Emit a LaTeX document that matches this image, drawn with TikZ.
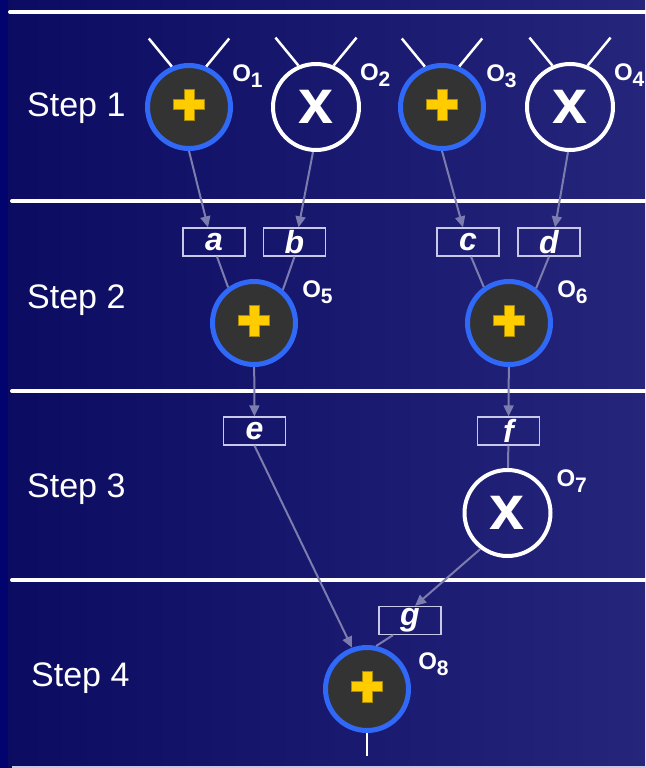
\documentclass[tikz,border=0pt]{standalone}
\usepackage{fontspec}
\setmainfont{Liberation Sans}
\usetikzlibrary{arrows.meta,positioning}
\definecolor{bgleft}{HTML}{0B0B62}
\definecolor{bgright}{HTML}{25257C}
\definecolor{bgedge}{HTML}{03036F}
\definecolor{opblue}{HTML}{3068F8}
\definecolor{opgray}{HTML}{333333}
\definecolor{plusyellow}{HTML}{FFCC00}
\definecolor{plusedge}{HTML}{A88A00}
\definecolor{wirecol}{HTML}{7C7CAE}
\definecolor{boxline}{HTML}{C8C8E8}

\begin{document}
\begin{tikzpicture}[
    x=1pt, y=-1pt,
    every node/.style={text=white},
    steplabel/.style={
        font=\fontsize{34}{38}\selectfont,
        inner sep=0pt,
        anchor=base west
    },
    addop/.style={
        circle,
        inner sep=0pt,
        minimum size=83pt,
        line width=5pt,
        draw=opblue,
        fill=opgray,
        path picture={
            \fill[plusyellow, draw=plusedge, line width=0.6pt]
                ([yshift=2.5pt]path picture bounding box.center)
                ++(-4.8pt,15.5pt) -- ++(9.6pt,0pt) -- ++(0pt,-10.7pt)
                -- ++(10.7pt,0pt) -- ++(0pt,-9.6pt) -- ++(-10.7pt,0pt)
                -- ++(0pt,-10.7pt) -- ++(-9.6pt,0pt) -- ++(0pt,10.7pt)
                -- ++(-10.7pt,0pt) -- ++(0pt,9.6pt) -- ++(10.7pt,0pt)
                -- cycle;
        }
    },
    mulop/.style={
        circle,
        inner sep=0pt,
        minimum size=86pt,
        line width=4pt,
        draw=white,
        font=\fontsize{63}{63}\selectfont\bfseries
    },
    opname/.style={
        inner sep=0pt,
        anchor=west,
        font=\fontsize{24}{26}\selectfont\bfseries
    },
    varbox/.style={
        rectangle,
        inner sep=0pt,
        minimum width=62pt,
        minimum height=28pt,
        line width=1.3pt,
        draw=boxline,
        font=\fontsize{32}{33}\selectfont\bfseries\itshape
    },
    arrow/.style={
        -{Triangle[length=11pt,width=10pt]},
        line width=2pt,
        draw=wirecol
    },
    link/.style={
        line width=2pt,
        draw=wirecol
    },
    antenna/.style={
        line width=2.5pt,
        draw=white
    },
    rule/.style={
        line width=4pt,
        draw=white,
        line cap=round
    }
]
\newcommand{\opsub}[1]{O\raisebox{-6pt}{\fontsize{21}{22}\selectfont#1}}

\useasboundingbox (0,0) rectangle (645,768);
\fill[left color=bgleft, right color=bgright] (0,0) rectangle (645,768);
\fill[bgedge] (0,0) rectangle (8,768);

% step separators
\draw[rule] (10,12) -- (660,12);
\foreach \y in {201,391,580}
    \draw[rule] (12,\y) -- (660,\y);
\draw[rule, line cap=butt, draw=boxline] (12,768) -- (660,768);

\node[steplabel] (step1) at (27,116) {Step 1};
\node[steplabel] (step2) at (27,308) {Step 2};
\node[steplabel] (step3) at (27,497) {Step 3};
\node[steplabel] (step4) at (31,686) {Step 4};

% operations
\node[addop] (o1) at (189,107) {};
\node[mulop] (o2) at (316,107) {x};
\node[addop] (o3) at (442,107) {};
\node[mulop] (o4) at (570,107) {x};
\node[addop] (o5) at (254,323) {};
\node[addop] (o6) at (509,323) {};
\node[mulop] (o7) at (507.5,513) {x};
\node[addop] (o8) at (367,689) {};
\coordinate (out) at (367,756);

\node[opname, right=12pt of o1.north east] (n1) {\opsub{1}};
\node[opname, right=12pt of o2.north east] (n2) {\opsub{2}};
\node[opname, right=13pt of o3.north east] (n3) {\opsub{3}};
\node[opname, right=12pt of o4.north east] (n4) {\opsub{4}};
\node[opname, right=17pt of o5.north east] (n5) {\opsub{5}};
\node[opname, right=17pt of o6.north east] (n6) {\opsub{6}};
\node[opname, right=17pt of o7.north east] (n7) {\opsub{7}};
\node[opname, right=20pt of o8.north east, yshift=-6pt] (n8) {\opsub{8}};

% values
\node[varbox] (a) at (214,242) {a};
\node[varbox] (b) at (294.5,242) {b};
\node[varbox] (c) at (468,242) {c};
\node[varbox] (d) at (549,242) {d};
\node[varbox] (e) at (254.5,431) {e};
\node[varbox] (f) at (508.5,431) {f};
\node[varbox] (g) at (410,620.5) {g};

% inputs of the first step
\foreach \n in {o1,o2,o3,o4} {
    \draw[antenna] (\n.113) -- ++(-23,-28);
    \draw[antenna] (\n.67) -- ++(23,-28);
}

\draw[arrow] (o1.south) -- ([xshift=-6pt]a.north);
\draw[arrow] ([xshift=-3pt]o2.south) -- ([xshift=4pt]b.north);
\draw[arrow] (o3.south) -- ([xshift=-5pt]c.north);
\draw[arrow] ([xshift=-2pt]o4.south) -- ([xshift=6pt]d.north);

\draw[link] ([xshift=3pt]a.south) -- (o5.126);
\draw[link] (b.south) -- (o5.49);
\draw[link] ([xshift=3pt]c.south) -- (o6.125);
\draw[link] (d.south) -- (o6.52);

\draw[arrow] (o5) -- (e);
\draw[arrow] (o6) -- (f);
\draw[link] (f) -- (o7);

\draw[arrow] (e.south) -- (o8.110);
\draw[arrow] (o7.233) -- ([xshift=5pt]g.north);
\draw[link] ([xshift=-17pt]g.south) -- (o8.78);
\draw[antenna, line width=2pt] (o8) -- (out);

\end{tikzpicture}
\end{document}
